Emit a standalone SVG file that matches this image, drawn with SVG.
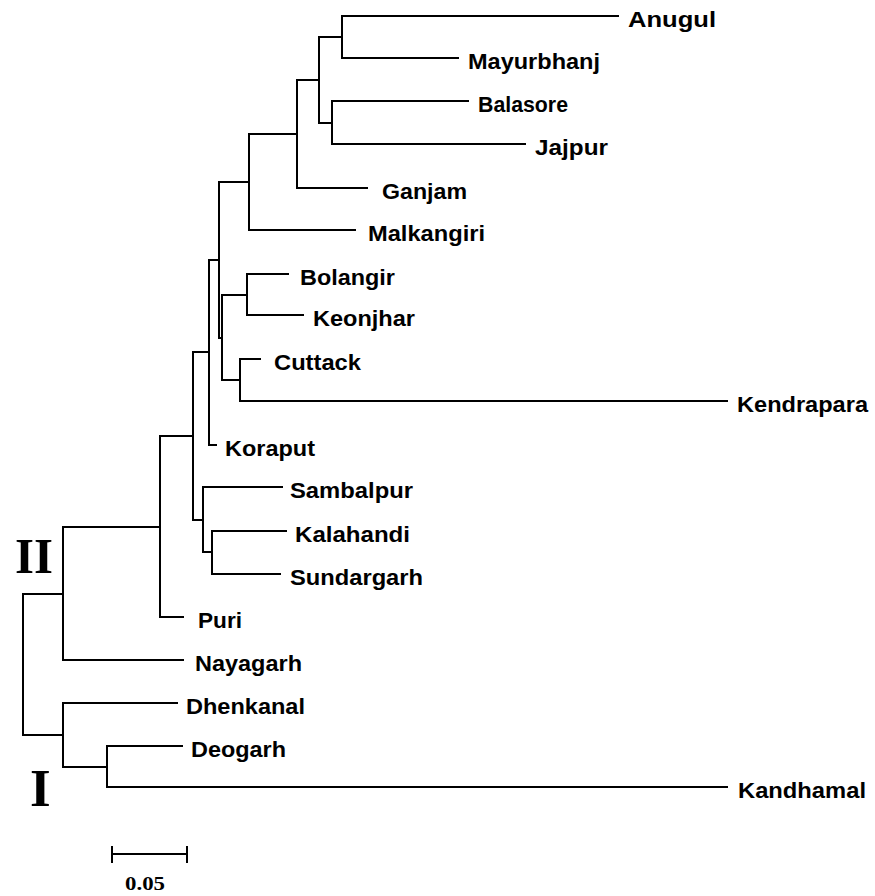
<svg xmlns="http://www.w3.org/2000/svg" width="875" height="896" viewBox="0 0 875 896">
<style>
.e{fill:none;stroke:#000;stroke-width:2;stroke-linecap:square}
.t{font-family:"Liberation Sans",Arial,sans-serif;font-weight:bold;font-size:22px;fill:#000}
.r{font-family:"Liberation Serif","Times New Roman",serif;font-weight:bold;fill:#000}
</style>
<rect width="875" height="896" fill="#fff"/>
<g id="connectors">
<path class="e" d="M342 16V58M342 16H618M342 58H458"/>
<path class="e" d="M332 101V144M332 101H468M332 144H525"/>
<path class="e" d="M319 37V123M319 37H342M319 123H332"/>
<path class="e" d="M297 80V188M297 80H319M297 188H367"/>
<path class="e" d="M249 134V230M249 134H297M249 230H355"/>
<path class="e" d="M247 274V315M247 274H288M247 315H303"/>
<path class="e" d="M240 359V401M240 359H260M240 401H727"/>
<path class="e" d="M222 295V380M222 295H247M222 380H240"/>
<path class="e" d="M219 182V338M219 182H249M219 338H222"/>
<path class="e" d="M209 260V445M209 260H219M209 445H216"/>
<path class="e" d="M212 531V574M212 531H286M212 574H280"/>
<path class="e" d="M203 487V552M203 487H282M203 552H212"/>
<path class="e" d="M193 352V520M193 352H209M193 520H203"/>
<path class="e" d="M160 436V617M160 436H193M160 617H183"/>
<path class="e" d="M63 527V660M63 527H160M63 660H183"/>
<path class="e" d="M107 746V787M107 746H182M107 787H727"/>
<path class="e" d="M63 703V767M63 703H177M63 767H107"/>
<path class="e" d="M23 594V735M23 594H63M23 735H63"/>
</g>
<g id="Anugul"><text class="t" x="628" y="27" textLength="88" lengthAdjust="spacingAndGlyphs">Anugul</text></g>
<g id="Mayurbhanj"><text class="t" x="468" y="69" textLength="132" lengthAdjust="spacingAndGlyphs">Mayurbhanj</text></g>
<g id="Balasore"><text class="t" x="478" y="112" textLength="90" lengthAdjust="spacingAndGlyphs">Balasore</text></g>
<g id="Jajpur"><text class="t" x="535" y="155" textLength="73" lengthAdjust="spacingAndGlyphs">Jajpur</text></g>
<g id="Ganjam"><text class="t" x="382" y="199" textLength="85" lengthAdjust="spacingAndGlyphs">Ganjam</text></g>
<g id="Malkangiri"><text class="t" x="368" y="241" textLength="117" lengthAdjust="spacingAndGlyphs">Malkangiri</text></g>
<g id="Bolangir"><text class="t" x="300" y="285" textLength="95" lengthAdjust="spacingAndGlyphs">Bolangir</text></g>
<g id="Keonjhar"><text class="t" x="313" y="326" textLength="102" lengthAdjust="spacingAndGlyphs">Keonjhar</text></g>
<g id="Cuttack"><text class="t" x="274" y="370" textLength="87" lengthAdjust="spacingAndGlyphs">Cuttack</text></g>
<g id="Kendrapara"><text class="t" x="737" y="412" textLength="131" lengthAdjust="spacingAndGlyphs">Kendrapara</text></g>
<g id="Koraput"><text class="t" x="225" y="456" textLength="90" lengthAdjust="spacingAndGlyphs">Koraput</text></g>
<g id="Sambalpur"><text class="t" x="290" y="498" textLength="123" lengthAdjust="spacingAndGlyphs">Sambalpur</text></g>
<g id="Kalahandi"><text class="t" x="295" y="542" textLength="115" lengthAdjust="spacingAndGlyphs">Kalahandi</text></g>
<g id="Sundargarh"><text class="t" x="290" y="585" textLength="133" lengthAdjust="spacingAndGlyphs">Sundargarh</text></g>
<g id="Puri"><text class="t" x="198" y="628" textLength="44" lengthAdjust="spacingAndGlyphs">Puri</text></g>
<g id="Nayagarh"><text class="t" x="195" y="671" textLength="107" lengthAdjust="spacingAndGlyphs">Nayagarh</text></g>
<g id="Dhenkanal"><text class="t" x="186" y="714" textLength="119" lengthAdjust="spacingAndGlyphs">Dhenkanal</text></g>
<g id="Deogarh"><text class="t" x="191" y="757" textLength="95" lengthAdjust="spacingAndGlyphs">Deogarh</text></g>
<g id="Kandhamal"><text class="t" x="738" y="798" textLength="128" lengthAdjust="spacingAndGlyphs">Kandhamal</text></g>
<g id="cluster-II"><text class="r" x="15" y="573" font-size="51" textLength="38" lengthAdjust="spacingAndGlyphs">II</text></g>
<g id="cluster-I"><text class="r" x="30" y="806" font-size="53">I</text></g>
<g id="scale-bar">
<path class="e" d="M112 854H187M112 847V862M187 847V862"/>
<text class="r" x="125" y="890" font-size="19" textLength="40" lengthAdjust="spacingAndGlyphs">0.05</text>
</g>
</svg>
